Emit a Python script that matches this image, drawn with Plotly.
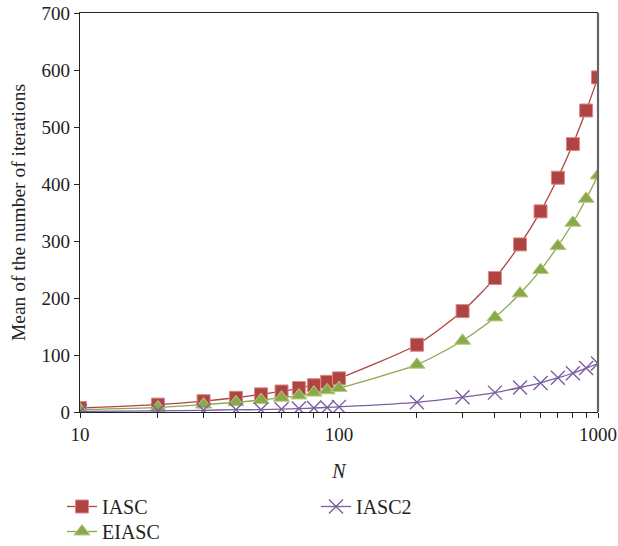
import plotly.graph_objects as go

# Problem size N
n_values = [10, 20, 30, 40, 50, 60, 70, 80, 90, 100,
            200, 300, 400, 500, 600, 700, 800, 900, 1000]

# Mean number of iterations for each algorithm
iasc = [7, 13, 19, 25, 31, 36, 42, 47, 53, 59,
        118, 177, 235, 294, 352, 411, 470, 529, 587]
eiasc = [4, 8, 13, 17, 21, 25, 29, 34, 38, 42,
         83, 125, 166, 208, 249, 291, 332, 374, 415]
iasc2 = [1, 2, 3, 4, 4, 5, 6, 7, 8, 9,
         17, 26, 34, 43, 51, 60, 68, 77, 85]

y_ticks = [0, 100, 200, 300, 400, 500, 600, 700]
x_ticks = [10, 100, 1000]

FONT = "Liberation Serif"
TEXT = "#222222"
RED = "#AF4442"
GREEN = "#8BA84A"
PURPLE = "#7B5FA0"

fig = go.Figure()

fig.add_trace(go.Scatter(
    x=n_values, y=iasc, name="IASC", mode="lines+markers",
    line=dict(color=RED, width=1.3, shape="spline", smoothing=0.6),
    marker=dict(symbol="square", size=13, color=RED,
                line=dict(color="#D88A88", width=1)),
    legend="legend",
))
fig.add_trace(go.Scatter(
    x=n_values, y=eiasc, name="EIASC", mode="lines+markers",
    line=dict(color=GREEN, width=1.3, shape="spline", smoothing=0.6),
    marker=dict(symbol="triangle-up", size=14, color=GREEN,
                line=dict(color="#B5CC84", width=1)),
    legend="legend2",
))
fig.add_trace(go.Scatter(
    x=n_values, y=iasc2, name="IASC2", mode="lines+markers",
    line=dict(color=PURPLE, width=1.3, shape="spline", smoothing=0.6),
    marker=dict(symbol="x-thin", size=14, color=PURPLE,
                line=dict(color=PURPLE, width=1.4)),
    legend="legend3",
))

W, H = 618, 546
M_L, M_R, M_T, M_B = 80, 20, 13, 134
PLOT_W = W - M_L - M_R
PLOT_H = H - M_T - M_B


def legend_box(left_px, top_px):
    # position given in page pixels, converted to plot-area fractions
    return dict(x=(left_px - M_L) / PLOT_W,
                y=(H - M_B - top_px) / PLOT_H,
                xanchor="left", yanchor="top", orientation="v",
                font=dict(family=FONT, size=20, color=TEXT),
                bgcolor="rgba(0,0,0,0)")


fig.update_layout(
    width=W, height=H,
    margin=dict(l=M_L, r=M_R, t=M_T, b=M_B, autoexpand=False),
    plot_bgcolor="white", paper_bgcolor="white",
    font=dict(family=FONT, size=19, color=TEXT),
    showlegend=True,
    legend=legend_box(62, 487),
    legend2=legend_box(62, 512),
    legend3=legend_box(316, 487),
)

fig.update_xaxes(
    type="log", range=[1, 3], automargin=False,
    tickvals=x_ticks, ticktext=[str(v) for v in x_ticks],
    ticks="outside", ticklen=5, tickcolor=TEXT,
    minor=dict(ticks="outside", ticklen=5, tickcolor=TEXT,
               dtick="D1", showgrid=False),
    showline=True, linecolor=TEXT, linewidth=1.2, mirror=True,
    showgrid=False, zeroline=False,
    tickfont=dict(family=FONT, size=19),
    title=dict(text="<i>N</i>", font=dict(family=FONT, size=20), standoff=20),
)
fig.update_yaxes(
    range=[0, 700], tickvals=y_ticks, automargin=False,
    ticks="outside", ticklen=5, tickcolor=TEXT,
    showline=True, linecolor=TEXT, linewidth=1.2,
    showgrid=False, zeroline=False,
    tickfont=dict(family=FONT, size=19),
    title=dict(text="Mean of the number of iterations",
               font=dict(family=FONT, size=19.5), standoff=10),
)

# Grey frame line along the right edge of the plot area
fig.add_shape(type="line", xref="paper", yref="paper",
              x0=1, x1=1, y0=0, y1=1,
              line=dict(color="#666666", width=2.2))

fig.write_html("out.html")
